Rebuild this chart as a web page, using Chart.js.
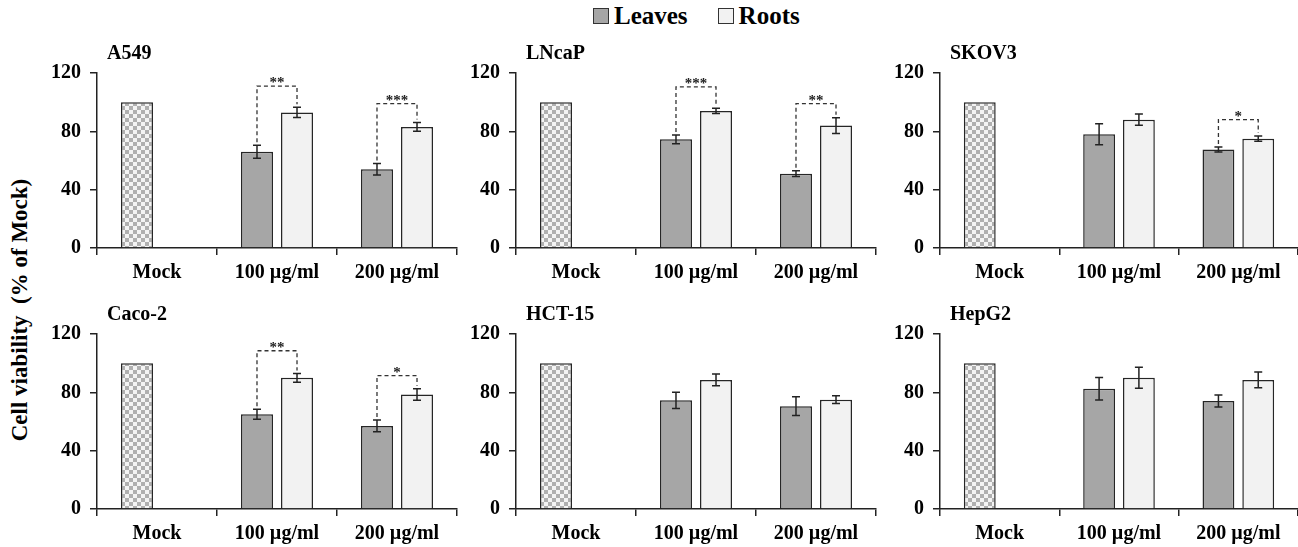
<!DOCTYPE html>
<html>
<head>
<meta charset="utf-8">
<script src="https://cdn.jsdelivr.net/npm/chart.js@4"></script>
<style>
  body { margin: 0; width: 1298px; height: 547px; background: #fff; position: relative; overflow: hidden;
         font-family: "Liberation Serif", "Times New Roman", serif; }
  canvas { position: absolute; }
  #legend { position: absolute; top: 2px; left: 593px; display: flex; align-items: center; font-weight: bold; font-size: 25px; color: #000; }
  #legend .box { width: 14px; height: 14px; border: 1px solid #333; margin-right: 5px; }
  #legend .item { display: flex; align-items: center; margin-right: 30px; }
  #ytitle { position: absolute; left: 20px; top: 310px; transform: translate(-50%, -50%) rotate(-90deg);
            white-space: pre; font-weight: bold; font-size: 23px; color: #000; }
</style>
</head>
<body>
<div id="legend"></div>
<div id="ytitle">Cell viability  (% of Mock)</div>

<script>
// Data
const categories = ["Mock", "100 µg/ml", "200 µg/ml"];
const seriesNames = ["Leaves", "Roots"];
const panelTitles = ["A549", "LNcaP", "SKOV3", "Caco-2", "HCT-15", "HepG2"];
const yTicks = [0, 40, 80, 120];

const mockValues = [100, 100, 100, 100, 100, 100];
// 100 µg/ml, 200 µg/ml
const leavesValues = [[66, 54], [74.5, 51], [78, 67.5], [65, 57], [74.5, 70.5], [82.5, 74]];
const leavesErrors = [[4.5, 4], [3, 2], [7.2, 1.7], [3.4, 4], [5.5, 6.4], [7.7, 4.1]];
const rootsValues = [[93, 83], [94, 84], [88, 75], [90, 78.5], [88.5, 75], [90, 88.5]];
const rootsErrors = [[3.5, 3], [1.8, 5.4], [3.9, 1.8], [3, 4], [4, 2.7], [7.2, 5.4]];

// significance brackets: [height, label] per dose
const brackets = [
  [[111, "**"], [99, "***"]],
  [[110.5, "***"], [99, "**"]],
  [null, [88, "*"]],
  [[108.5, "**"], [91.5, "*"]],
  [null, null],
  [null, null],
];

const leavesColor = "#a6a6a6";
const rootsColor = "#f2f2f2";
const fontFamily = '"Liberation Serif", "Times New Roman", serif';

// Legend
const legend = document.getElementById("legend");
[leavesColor, rootsColor].forEach((c, i) => {
  legend.innerHTML += `<div class="item"><div class="box" style="background:${c}"></div>${seriesNames[i]}</div>`;
});

// panel layout (axis left, chart top, chart bottom)
const panels = [
  { axisLeft: 97, top: 30, height: 260, areaTop: 73, areaBottom: 248, width: 424 },
  { axisLeft: 516, top: 30, height: 260, areaTop: 73, areaBottom: 248, width: 424 },
  { axisLeft: 940, top: 30, height: 260, areaTop: 73, areaBottom: 248, width: 418 },
  { axisLeft: 97, top: 290, height: 257, areaTop: 334, areaBottom: 509, width: 424 },
  { axisLeft: 516, top: 290, height: 257, areaTop: 334, areaBottom: 509, width: 424 },
  { axisLeft: 940, top: 290, height: 257, areaTop: 334, areaBottom: 509, width: 418 },
];

// Checkered fill for Mock
function createChecker(ctx) {
  const tile = document.createElement("canvas");
  tile.width = 8;
  tile.height = 8;
  const t = tile.getContext("2d");
  t.fillStyle = "#f4f4f4";
  t.fillRect(0, 0, 8, 8);
  t.fillStyle = "#b0b0b0";
  t.fillRect(0, 0, 4, 4);
  t.fillRect(4, 4, 4, 4);
  return ctx.createPattern(tile, "repeat");
}

// Error bars + brackets + panel title
const extrasPlugin = {
  id: "extras",
  afterDatasetsDraw(chart) {
    const ctx = chart.ctx;
    const y = chart.scales.y;
    const p = chart.options.plugins.extras;
    ctx.save();
    ctx.strokeStyle = "#222";
    ctx.lineWidth = 1.5;
    chart.data.datasets.forEach((ds, di) => {
      const meta = chart.getDatasetMeta(di);
      meta.data.forEach((bar, i) => {
        const v = ds.data[i];
        const e = ds.errors[i];
        if (v == null || !e) return;
        const yTop = y.getPixelForValue(v + e);
        const yBot = y.getPixelForValue(v - e);
        ctx.beginPath();
        ctx.moveTo(bar.x, yTop); ctx.lineTo(bar.x, yBot);
        ctx.moveTo(bar.x - 4, yTop); ctx.lineTo(bar.x + 4, yTop);
        ctx.moveTo(bar.x - 4, yBot); ctx.lineTo(bar.x + 4, yBot);
        ctx.stroke();
      });
    });

    // brackets
    const lMeta = chart.getDatasetMeta(0);
    const rMeta = chart.getDatasetMeta(1);
    const lds = chart.data.datasets[0];
    const rds = chart.data.datasets[1];
    p.brackets.forEach((b, k) => {
      if (!b) return;
      const i = k + 1;
      const x1 = lMeta.data[i].x;
      const x2 = rMeta.data[i].x;
      const yb = y.getPixelForValue(b[0]);
      const y1 = y.getPixelForValue(lds.data[i] + lds.errors[i]) - 3;
      const y2 = y.getPixelForValue(rds.data[i] + rds.errors[i]) - 3;
      ctx.setLineDash([4, 3]);
      ctx.strokeStyle = "#333";
      ctx.lineWidth = 1.3;
      ctx.beginPath();
      ctx.moveTo(x1, y1); ctx.lineTo(x1, yb); ctx.lineTo(x2, yb); ctx.lineTo(x2, y2);
      ctx.stroke();
      ctx.setLineDash([]);
      ctx.fillStyle = "#222";
      ctx.font = "bold 15px " + fontFamily;
      ctx.textAlign = "center";
      ctx.textBaseline = "alphabetic";
      ctx.fillText(b[1], (x1 + x2) / 2, yb + 1);
    });

    // title
    ctx.fillStyle = "#000";
    ctx.font = "bold 20px " + fontFamily;
    ctx.textAlign = "left";
    ctx.textBaseline = "middle";
    ctx.fillText(p.title, chart.chartArea.left + 10, chart.chartArea.top - 19);
    ctx.restore();
  },
};

panels.forEach((pn, idx) => {
  const canvas = document.createElement("canvas");
  canvas.style.left = pn.axisLeft - 60 + "px";
  canvas.style.top = pn.top + "px";
  canvas.style.width = pn.width + "px";
  canvas.style.height = pn.height + "px";
  canvas.width = pn.width;
  canvas.height = pn.height;
  document.body.appendChild(canvas);
  const ctx = canvas.getContext("2d");
  const checker = createChecker(ctx);
  const plotRight = pn.width - 60 - Math.min(360, pn.width - 60);
  const xHeight = pn.height - (pn.areaBottom - pn.top);

  new Chart(ctx, {
    type: "bar",
    data: {
      labels: categories,
      datasets: [
        {
          label: seriesNames[0],
          data: [mockValues[idx], ...leavesValues[idx]],
          errors: [0, ...leavesErrors[idx]],
          backgroundColor: [checker, leavesColor, leavesColor],
          borderColor: "#262626",
          borderWidth: 1.5,
        },
        {
          label: seriesNames[1],
          data: [null, ...rootsValues[idx]],
          errors: [0, ...rootsErrors[idx]],
          backgroundColor: rootsColor,
          borderColor: "#262626",
          borderWidth: 1.5,
        },
      ],
    },
    options: {
      responsive: false,
      animation: false,
      categoryPercentage: 0.667,
      barPercentage: 0.8,
      layout: {
        padding: { top: pn.areaTop - pn.top, left: 0, right: plotRight, bottom: 0 },
      },
      plugins: {
        legend: { display: false },
        title: { display: false },
        tooltip: { enabled: false },
        extras: { title: panelTitles[idx], brackets: brackets[idx] },
      },
      scales: {
        x: {
          afterFit: (s) => { s.height = xHeight; },
          grid: { drawOnChartArea: false, drawTicks: true, tickLength: 7, color: "#222", lineWidth: 1.5 },
          border: { display: true, color: "#222", width: 1.5 },
          ticks: { color: "#000", padding: 6, font: { family: fontFamily, size: 20, weight: "bold" } },
        },
        y: {
          min: 0,
          max: 120,
          afterFit: (s) => { s.width = 60; },
          afterBuildTicks: (s) => { s.ticks = yTicks.map((v) => ({ value: v })); },
          grid: { drawOnChartArea: false, drawTicks: true, tickLength: 7, color: "#222", lineWidth: 1.5 },
          border: { display: true, color: "#222", width: 1.5 },
          ticks: { color: "#000", padding: 9, font: { family: fontFamily, size: 20, weight: "bold" } },
        },
      },
    },
    plugins: [extrasPlugin],
  });
});
</script>
</body>
</html>
